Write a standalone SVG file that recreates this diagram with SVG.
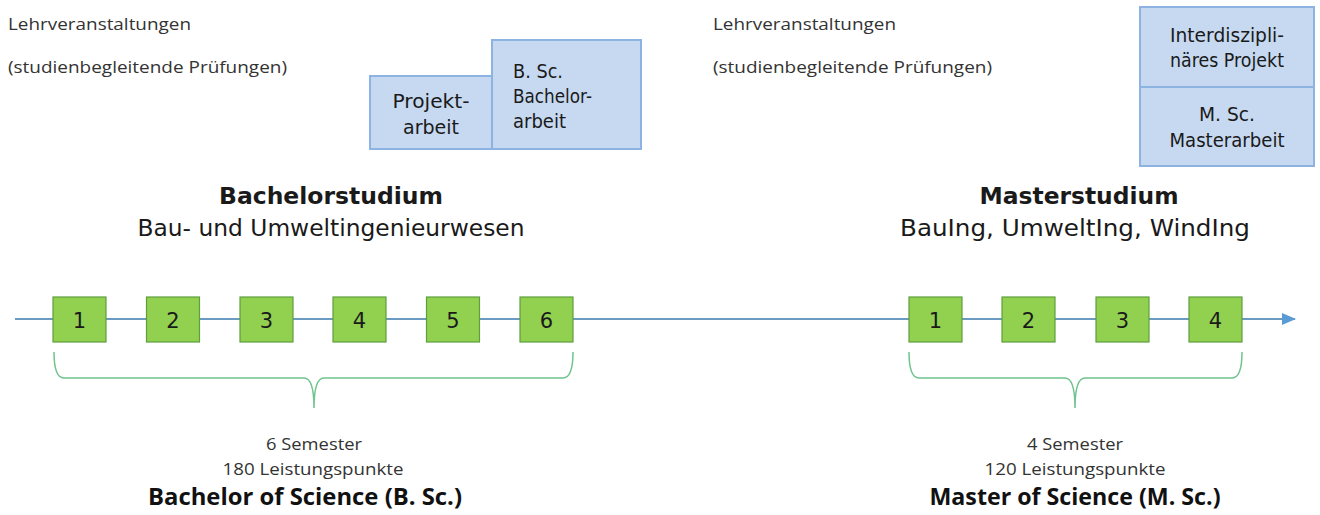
<svg xmlns="http://www.w3.org/2000/svg" width="1320" height="515" viewBox="0 0 1320 515">
<style>
.t{font-family:"DejaVu Sans",Verdana,sans-serif;fill:#1a1a1a}
.c{font-family:"Open Sans","Liberation Sans",sans-serif;fill:#333}
.cb{font-family:"Open Sans","Liberation Sans",sans-serif;font-weight:bold;fill:#111}
.sem rect{fill:#92d050;stroke:#5e9e3c;stroke-width:1.2}
.sem text{font-family:"DejaVu Sans",Verdana,sans-serif;font-size:21px;fill:#1a1a1a;text-anchor:middle}
.blue{fill:#c6d9f1;stroke:#8db3e2;stroke-width:2}
.brace{fill:none;stroke:#6fc38d;stroke-width:1.5}
</style>
<defs>
<marker id="arr" markerWidth="14" markerHeight="14" refX="13" refY="7" orient="auto" markerUnits="userSpaceOnUse">
<path d="M0,1 L14,7 L0,13 Z" fill="#5b9bd5"/>
</marker>
</defs>
<rect width="1320" height="515" fill="#fff"/>

<g id="connectors">
<line x1="15" y1="319" x2="1295" y2="319" stroke="#6b9bc3" stroke-width="2" marker-end="url(#arr)"/>
<path class="brace" d="M54,352 Q54,378 64,378 L304,378 Q314,378 314,408 Q314,378 324,378 L563,378 Q573,378 573,352"/>
<path class="brace" d="M909,352 Q909,378 919,378 L1065,378 Q1075,378 1075,408 Q1075,378 1085,378 L1232,378 Q1242,378 1242,352"/>
</g>

<g id="bachelor-labels">
<text class="c" x="8" y="30" font-size="17" textLength="183" lengthAdjust="spacingAndGlyphs">Lehrveranstaltungen</text>
<text class="c" x="8" y="73" font-size="17" textLength="279" lengthAdjust="spacingAndGlyphs">(studienbegleitende Prüfungen)</text>
</g>
<g id="master-labels">
<text class="c" x="713" y="30" font-size="17" textLength="183" lengthAdjust="spacingAndGlyphs">Lehrveranstaltungen</text>
<text class="c" x="713" y="73" font-size="17" textLength="279" lengthAdjust="spacingAndGlyphs">(studienbegleitende Prüfungen)</text>
</g>

<g id="projektarbeit">
<rect class="blue" x="370" y="76" width="122" height="73"/>
<text class="t" x="431" y="108" font-size="20" text-anchor="middle" textLength="77" lengthAdjust="spacingAndGlyphs">Projekt-</text>
<text class="t" x="431" y="134" font-size="20" text-anchor="middle" textLength="56" lengthAdjust="spacingAndGlyphs">arbeit</text>
</g>
<g id="bachelorarbeit">
<rect class="blue" x="492" y="40" width="149" height="109"/>
<text class="t" x="513" y="78" font-size="20" textLength="50" lengthAdjust="spacingAndGlyphs">B. Sc.</text>
<text class="t" x="513" y="103" font-size="20" textLength="79" lengthAdjust="spacingAndGlyphs">Bachelor-</text>
<text class="t" x="513" y="128" font-size="20" textLength="53" lengthAdjust="spacingAndGlyphs">arbeit</text>
</g>
<g id="interdisziplinaeres-projekt">
<rect class="blue" x="1140" y="7" width="174" height="80"/>
<text class="t" x="1227" y="42" font-size="20" text-anchor="middle" textLength="114" lengthAdjust="spacingAndGlyphs">Interdiszipli-</text>
<text class="t" x="1227" y="67" font-size="20" text-anchor="middle" textLength="114" lengthAdjust="spacingAndGlyphs">näres Projekt</text>
</g>
<g id="masterarbeit">
<rect class="blue" x="1140" y="87" width="174" height="79"/>
<text class="t" x="1227" y="121" font-size="20" text-anchor="middle" textLength="56" lengthAdjust="spacingAndGlyphs">M. Sc.</text>
<text class="t" x="1227" y="147" font-size="20" text-anchor="middle" textLength="115" lengthAdjust="spacingAndGlyphs">Masterarbeit</text>
</g>

<g id="bachelor-title">
<text class="t" x="331" y="204" font-size="23" font-weight="bold" text-anchor="middle" textLength="224" lengthAdjust="spacingAndGlyphs">Bachelorstudium</text>
<text class="t" x="331" y="236" font-size="23" text-anchor="middle" textLength="387" lengthAdjust="spacingAndGlyphs">Bau- und Umweltingenieurwesen</text>
</g>
<g id="master-title">
<text class="t" x="1079" y="204" font-size="23" font-weight="bold" text-anchor="middle" textLength="199" lengthAdjust="spacingAndGlyphs">Masterstudium</text>
<text class="t" x="1075" y="236" font-size="23" text-anchor="middle" textLength="350" lengthAdjust="spacingAndGlyphs">BauIng, UmweltIng, WindIng</text>
</g>

<g id="bsc-sem1" class="sem"><rect x="53" y="297" width="53" height="45"/><text x="79.5" y="327.5">1</text></g>
<g id="bsc-sem2" class="sem"><rect x="146.5" y="297" width="53" height="45"/><text x="173" y="327.5">2</text></g>
<g id="bsc-sem3" class="sem"><rect x="240" y="297" width="53" height="45"/><text x="266.5" y="327.5">3</text></g>
<g id="bsc-sem4" class="sem"><rect x="333" y="297" width="53" height="45"/><text x="359.5" y="327.5">4</text></g>
<g id="bsc-sem5" class="sem"><rect x="426.5" y="297" width="53" height="45"/><text x="453" y="327.5">5</text></g>
<g id="bsc-sem6" class="sem"><rect x="520" y="297" width="53" height="45"/><text x="546.5" y="327.5">6</text></g>

<g id="msc-sem1" class="sem"><rect x="909" y="297" width="53" height="45"/><text x="935.5" y="327.5">1</text></g>
<g id="msc-sem2" class="sem"><rect x="1002" y="297" width="53" height="45"/><text x="1028.5" y="327.5">2</text></g>
<g id="msc-sem3" class="sem"><rect x="1096" y="297" width="53" height="45"/><text x="1122.5" y="327.5">3</text></g>
<g id="msc-sem4" class="sem"><rect x="1189" y="297" width="53" height="45"/><text x="1215.5" y="327.5">4</text></g>

<g id="bachelor-summary">
<text class="c" x="314" y="450" font-size="17" text-anchor="middle" textLength="96" lengthAdjust="spacingAndGlyphs">6 Semester</text>
<text class="c" x="313" y="475" font-size="17" text-anchor="middle" textLength="181" lengthAdjust="spacingAndGlyphs">180 Leistungspunkte</text>
<text class="cb" x="305" y="505" font-size="23" text-anchor="middle" textLength="314" lengthAdjust="spacingAndGlyphs">Bachelor of Science (B. Sc.)</text>
</g>
<g id="master-summary">
<text class="c" x="1075" y="450" font-size="17" text-anchor="middle" textLength="96" lengthAdjust="spacingAndGlyphs">4 Semester</text>
<text class="c" x="1075" y="475" font-size="17" text-anchor="middle" textLength="181" lengthAdjust="spacingAndGlyphs">120 Leistungspunkte</text>
<text class="cb" x="1075" y="505" font-size="23" text-anchor="middle" textLength="291" lengthAdjust="spacingAndGlyphs">Master of Science (M. Sc.)</text>
</g>
</svg>
